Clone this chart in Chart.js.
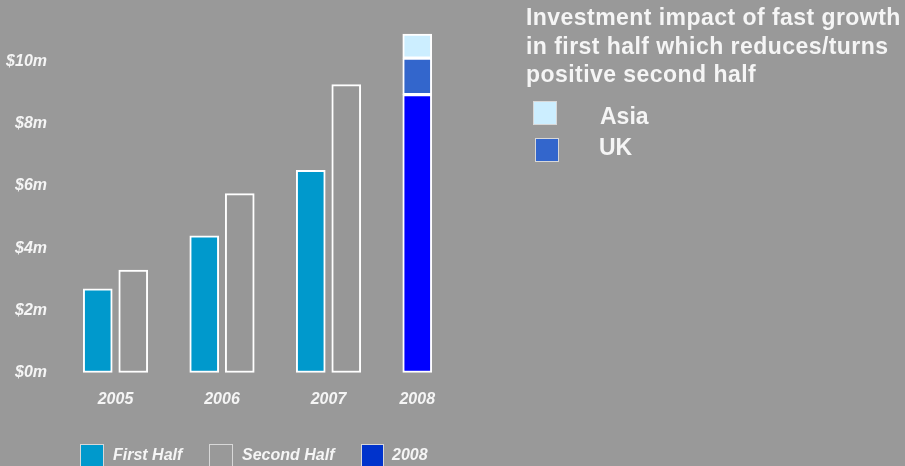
<!DOCTYPE html>
<html>
<head>
<meta charset="utf-8">
<script src="https://cdn.jsdelivr.net/npm/chart.js@4"></script>
<style>
  html, body { margin: 0; padding: 0; background: #999999; }
  body { width: 905px; height: 466px; position: relative; overflow: hidden; font-family: "Liberation Sans", Arial, sans-serif; }
  #wrap { position: absolute; left: 0; top: 0; width: 905px; height: 466px; }
  .title { position: absolute; left: 526px; top: 3px; color: #f5f5f5; font-weight: bold; font-size: 23px; line-height: 28.5px; letter-spacing: 0.45px; white-space: nowrap; }
  .box { position: absolute; box-sizing: border-box; border: 1px solid #d8d8d8; }
  .lbl { position: absolute; color: #f5f5f5; font-weight: bold; white-space: nowrap; line-height: 1; }
  .it { font-style: italic; font-size: 16px; }
  .big { font-size: 23px; }
</style>
</head>
<body>
<div id="wrap"><canvas id="canvas" width="905" height="466"></canvas></div>

<div class="title">Investment impact of fast growth<br>in first half which reduces/turns<br>positive second half</div>

<div class="box" style="left:533px;top:101px;width:24px;height:24px;background:#cceeff;"></div>
<div class="lbl big" style="left:600px;top:105px;">Asia</div>
<div class="box" style="left:535px;top:138px;width:24px;height:24px;background:#3366cc;"></div>
<div class="lbl big" style="left:599px;top:136px;">UK</div>

<div class="box" style="left:80px;top:444px;width:24px;height:30px;background:#0099cc;"></div>
<div class="lbl it" style="left:113px;top:447px;">First Half</div>
<div class="box" style="left:209px;top:444px;width:24px;height:30px;background:#999999;"></div>
<div class="lbl it" style="left:242px;top:447px;">Second Half</div>
<div class="box" style="left:361px;top:444px;width:23px;height:30px;background:#0033cc;"></div>
<div class="lbl it" style="left:392px;top:447px;">2008</div>

<script>
// data ($m)
const years = ['2005', '2006', '2007', '2008'];
const firstHalf = [2.7, 4.4, 6.5];
const secondHalf = [3.3, 5.75, 9.25];
const base2008 = [8.93];
const uk2008 = [1.17];
const asia2008 = [0.77];
const yTicks = [0, 2, 4, 6, 8, 10];

// slot layout: each year takes 3 slots (first, second, gap), 2008 sits in slot 9
const firstPts = firstHalf.map((v, i) => ({x: i * 3, y: v}));
const secondPts = secondHalf.map((v, i) => ({x: i * 3 + 1, y: v}));
const pos2008 = years.length * 3 - 3;
const yearTickPos = years.map((y, i) => i < 3 ? i * 3 + 0.5 : pos2008);

const white = '#f5f5f5';
const fam = '"Liberation Sans", Arial, sans-serif';

const common = {borderColor: '#ffffff', borderWidth: 2, borderSkipped: false, barThickness: 29};

new Chart(document.getElementById('canvas').getContext('2d'), {
    type: 'bar',
    data: {
        datasets: [
            Object.assign({label: 'First Half', data: firstPts, backgroundColor: '#0099cc'}, common),
            Object.assign({label: 'Second Half', data: secondPts, backgroundColor: '#979797'}, common),
            Object.assign({label: '2008', data: base2008.map(v => ({x: pos2008, y: v})), backgroundColor: '#0000ff'}, common),
            Object.assign({label: 'UK', data: uk2008.map(v => ({x: pos2008, y: v})), backgroundColor: '#3366cc'}, common),
            Object.assign({label: 'Asia', data: asia2008.map(v => ({x: pos2008, y: v})), backgroundColor: '#cceeff'}, common)
        ]
    },
    options: {
        responsive: false,
        animation: false,
        layout: {padding: {left: 0, top: 30, right: 470, bottom: 0}},
        plugins: {legend: {display: false}, tooltip: {enabled: false}},
        scales: {
            x: {
                type: 'linear',
                stacked: true,
                offset: false,
                min: -0.5,
                max: 9.5,
                grid: {display: false, drawTicks: false, offset: false},
                border: {display: false},
                afterBuildTicks: s => { s.ticks = yearTickPos.map(v => ({value: v})); },
                afterFit: s => { s.height = 93; },
                ticks: {
                    color: white,
                    font: {family: fam, size: 16, weight: 'bold', style: 'italic'},
                    padding: 17,
                    maxRotation: 0,
                    autoSkip: false,
                    callback: (v) => years[yearTickPos.indexOf(v)]
                }
            },
            y: {
                stacked: true,
                min: 0,
                max: 11,
                // invisible tick marks push the labels out without adding top padding
                grid: {display: true, color: 'rgba(0,0,0,0)', drawOnChartArea: false, drawTicks: true, tickLength: 33},
                border: {display: false},
                afterBuildTicks: s => { s.ticks = yTicks.map(v => ({value: v})); },
                afterFit: s => { s.width = 80; },
                ticks: {
                    color: white,
                    font: {family: fam, size: 16, weight: 'bold', style: 'italic'},
                    padding: 0,
                    callback: v => '$' + v + 'm'
                }
            }
        }
    }
});
</script>
</body>
</html>
